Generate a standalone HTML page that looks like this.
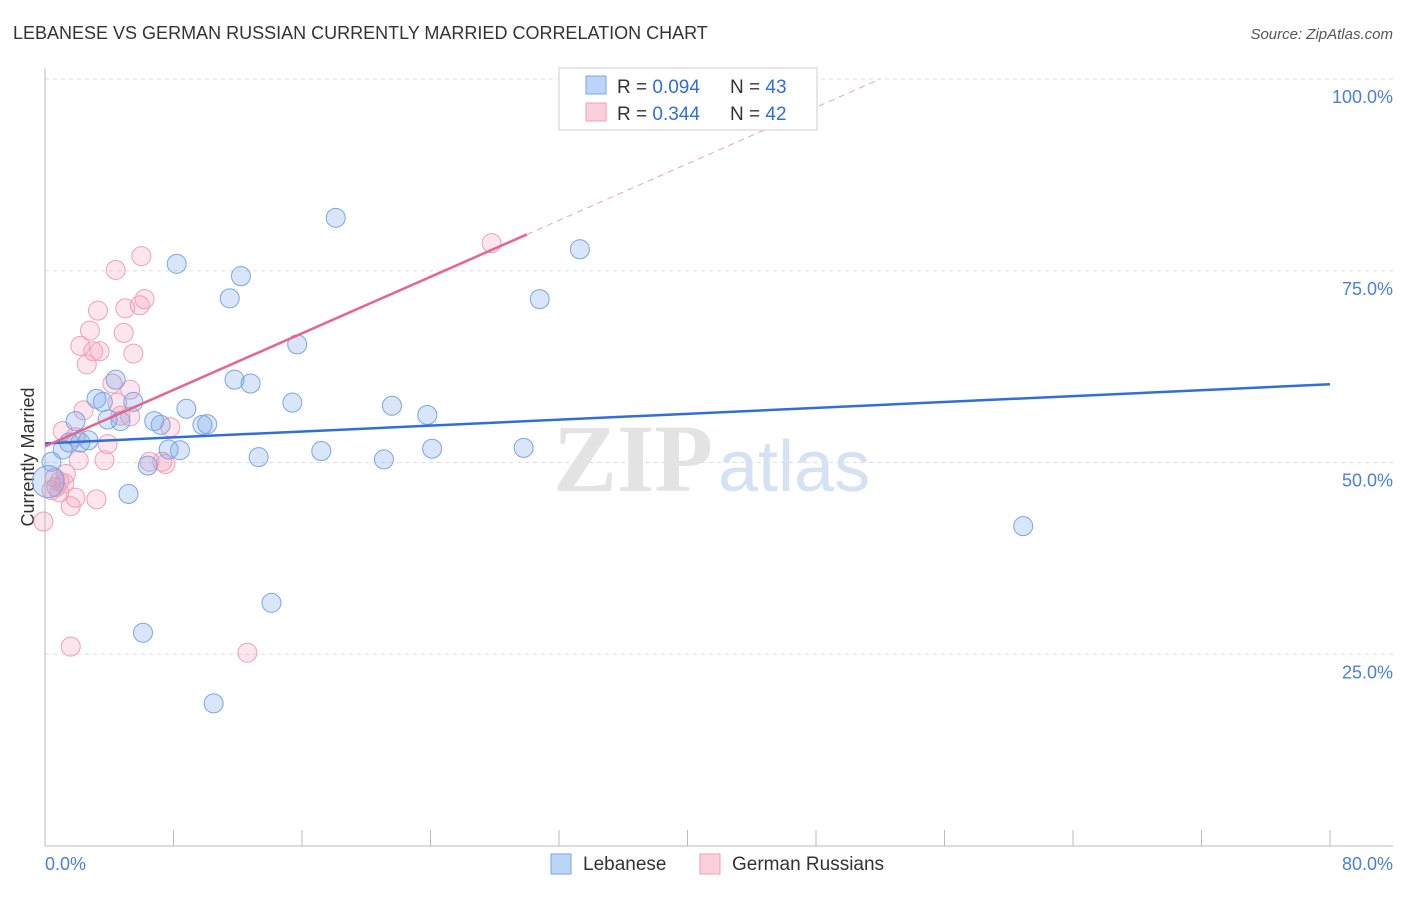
<!DOCTYPE html>
<html><head><meta charset="utf-8"><style>
body{margin:0;background:#fff;font-family:"Liberation Sans",sans-serif;}
</style></head><body>
<svg id="chart" width="1406" height="892" xmlns="http://www.w3.org/2000/svg" font-family="Liberation Sans, sans-serif">
<text x="13" y="39" font-size="18" fill="#333">LEBANESE VS GERMAN RUSSIAN CURRENTLY MARRIED CORRELATION CHART</text>
<text x="1393" y="39" font-size="15" fill="#555" text-anchor="end" font-style="italic">Source: ZipAtlas.com</text>
<g id="grid"></g>
<text x="553" y="491" font-size="96" fill="#e3e3e3" font-family="Liberation Serif, serif" font-weight="bold">ZIP</text>
<text x="718" y="491" font-size="72" fill="#d4e2f4">atlas</text>
<line x1="45" y1="68" x2="45" y2="846" stroke="#bbb"/>
<line x1="45" y1="846" x2="1393" y2="846" stroke="#bbb"/>
<g id="ticks"></g>
<text transform="translate(34,457) rotate(-90)" font-size="18" fill="#333" text-anchor="middle">Currently Married</text>
<text x="45" y="870" font-size="18" fill="#4a80d8">0.0%</text>
<text x="1393" y="870" font-size="18" fill="#4a80d8" text-anchor="end">80.0%</text>
<g id="marks"></g>
<g>
<rect x="559" y="68" width="258" height="62" fill="#fff" stroke="#ccc"/>
<rect x="586" y="76" width="20" height="18" fill="#bcd4f5" stroke="#7aa6e4"/>
<rect x="586" y="103" width="20" height="18" fill="#fbd0dc" stroke="#ee9fb6"/>
<text x="617" y="93" font-size="19" fill="#333">R = <tspan fill="#2f6fd6">0.094</tspan></text>
<text x="730" y="93" font-size="19" fill="#333">N = <tspan fill="#2f6fd6">43</tspan></text>
<text x="617" y="120" font-size="19" fill="#333">R = <tspan fill="#2f6fd6">0.344</tspan></text>
<text x="730" y="120" font-size="19" fill="#333">N = <tspan fill="#2f6fd6">42</tspan></text>
</g>
<g>
<rect x="551" y="854" width="20" height="20" fill="#bcd4f5" stroke="#7aa6e4"/>
<text x="583" y="870" font-size="19" fill="#333">Lebanese</text>
<rect x="700" y="854" width="20" height="20" fill="#fbd0dc" stroke="#ee9fb6"/>
<text x="732" y="870" font-size="19" fill="#333">German Russians</text>
</g>
</svg>
<script>
const yTicks=[25,50,75,100];
const yTickLabels=["25.0%","50.0%","75.0%","100.0%"];
const xTicks=[0,8,16,24,32,40,48,56,64,72,80];
const blueX=[18.1,8.2,33.3,12.2,11.5,30.8,15.7,11.8,12.8,4.4,3.2,3.6,5.5,8.8,15.4,21.6,23.8,3.9,4.7,6.8,7.2,9.8,10.1,1.9,1.5,2.7,2.2,1.1,7.7,8.4,13.3,17.2,29.8,6.4,21.1,24.1,5.2,0.4,0.2,14.1,6.1,10.5,60.9];
const blueY=[81.9,75.9,77.8,74.3,71.4,71.3,65.4,60.8,60.3,60.8,58.3,57.9,57.9,57.0,57.8,57.4,56.2,55.6,55.4,55.4,54.9,54.9,55.0,55.4,52.6,52.9,52.6,51.7,51.7,51.6,50.7,51.5,51.9,49.6,50.4,51.8,45.9,50.1,47.5,31.7,27.8,18.6,41.7];
const pinkX=[6.0,4.4,6.2,5.9,5.0,3.3,2.8,4.9,2.2,3.0,3.4,5.5,2.6,4.2,5.3,4.5,2.4,5.3,3.9,1.1,1.9,7.8,3.7,2.1,6.5,7.5,1.3,1.2,0.7,0.4,0.9,1.9,3.2,1.6,-0.1,1.6,12.6,27.8,4.7,0.9,0.6,7.3];
const pinkY=[76.9,75.1,71.3,70.5,70.1,69.8,67.2,66.9,65.2,64.5,64.5,64.2,62.8,60.3,59.5,57.8,56.8,56.0,52.4,54.1,53.3,54.6,50.3,50.3,50.1,49.8,48.5,47.3,46.8,46.4,46.1,45.4,45.2,44.3,42.3,26.0,25.2,78.6,56.1,47.5,48.0,50.1];
const blueTrend=[52.5,60.2];
const pinkTrend=[52.1,100];
const X0=45,X1=1330,Y0=846,Y100=79;
const xs=v=>X0+(X1-X0)*v/80;
const ys=v=>Y0-(Y0-Y100)*v/100;
const NS="http://www.w3.org/2000/svg";
function mk(tag,attrs,parent){const e=document.createElementNS(NS,tag);for(const k in attrs)e.setAttribute(k,attrs[k]);parent.appendChild(e);return e;}
const grid=document.getElementById('grid'),ticks=document.getElementById('ticks'),marks=document.getElementById('marks');
yTicks.forEach((t,i)=>{
 const l=mk('line',{x1:45,x2:1393,y1:ys(t),y2:ys(t),stroke:'#ddd','stroke-dasharray':'4,4'},grid);
 
 
 const tx=mk('text',{x:1393,y:ys(t)+24,'font-size':18,fill:'#4a80d8','text-anchor':'end'},grid);
 tx.textContent=yTickLabels[i];
 
 
});
xTicks.forEach(t=>{
 const l=mk('line',{x1:xs(t),x2:xs(t),y1:830,y2:846,stroke:'#bbb'},ticks);
 
 
});
function pts(X,Y,fill,stroke,name){
 X.forEach((x,i)=>{
  const big=(name==='lebanese-point'&&i===38);
  const c=mk('circle',{cx:xs(x),cy:ys(Y[i]),r:big?16:9.5,fill:fill,stroke:stroke,'stroke-width':1},marks);
  
  
 });
}
pts(pinkX,pinkY,'rgba(244,150,180,0.25)','#eea0b8','german-russian-point');
pts(blueX,blueY,'rgba(120,165,235,0.28)','#79a6e2','lebanese-point');
const bl=mk('line',{x1:xs(0),y1:ys(blueTrend[0]),x2:xs(80),y2:ys(blueTrend[1]),stroke:'#2f6fd6','stroke-width':2.5},marks);


const slope=(pinkTrend[1]-pinkTrend[0])/52;
const pe=30;
const pl=mk('line',{x1:xs(0),y1:ys(pinkTrend[0]),x2:xs(pe),y2:ys(pinkTrend[0]+slope*pe),stroke:'#e8648e','stroke-width':2.5},marks);


const pd=mk('line',{x1:xs(pe),y1:ys(pinkTrend[0]+slope*pe),x2:xs(52),y2:ys(pinkTrend[1]),stroke:'#eea0b8','stroke-width':1,'stroke-dasharray':'6,5'},marks);


</script>
</body></html>
